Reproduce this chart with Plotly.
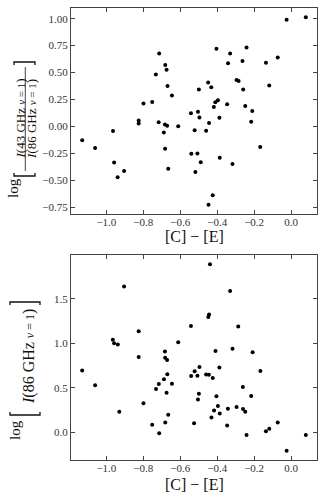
import plotly.graph_objects as go
from plotly.subplots import make_subplots

# colour index [C] - [E] and log line ratio (top panel)
ce_top = [0.080, -0.024, -0.241, -0.404, -0.330, -0.714, -0.072, -0.263, -0.136, -0.341,
          -0.681, -0.674, -0.732, -0.295, -0.284, -0.449, -0.118, -0.669, -0.432, -0.499,
          -0.259, -0.645, -0.396, -0.752, -0.410, -0.799, -0.346, -0.248, -0.418, -0.210,
          -0.504, -0.542, -0.496, -0.388, -1.131, -1.061, -0.964, -0.958, -0.939, -0.904,
          -0.825, -0.825, -0.717, -0.683, -0.671, -0.689, -0.682, -0.665, -0.611, -0.522,
          -0.518, -0.540, -0.507, -0.460, -0.444, -0.489, -0.386, -0.317, -0.216, -0.167,
          -0.424, -0.447]
ratio_43_86 = [1.012, 0.991, 0.732, 0.720, 0.676, 0.676, 0.639, 0.608, 0.592, 0.586,
               0.570, 0.527, 0.483, 0.430, 0.421, 0.409, 0.381, 0.375, 0.364, 0.342,
               0.342, 0.287, 0.244, 0.228, 0.225, 0.213, 0.206, 0.189, 0.181, 0.144,
               0.136, 0.122, 0.083, 0.082, -0.128, -0.200, -0.042, -0.335, -0.470, -0.413,
               0.056, 0.028, 0.040, 0.019, 0.007, -0.055, -0.206, -0.393, 0.001, -0.034,
               -0.422, -0.254, -0.251, -0.040, 0.032, -0.331, -0.291, -0.349, 0.044, -0.190,
               -0.637, -0.725]

# colour index and log 86 GHz intensity (bottom panel)
ce_bot = [-0.439, -0.904, -0.330, -0.444, -0.448, -0.542, -0.286, -0.825, -0.965, -0.958,
          -0.938, -0.611, -0.409, -0.683, -0.317, -0.208, -0.825, -0.682, -0.671, -0.496,
          -0.388, -1.131, -1.061, -0.930, -0.799, -0.752, -0.714, -0.731, -0.716, -0.688,
          -0.670, -0.674, -0.681, -0.665, -0.645, -0.541, -0.522, -0.507, -0.499, -0.504,
          -0.525, -0.460, -0.445, -0.424, -0.404, -0.396, -0.417, -0.386, -0.431, -0.342,
          -0.346, -0.295, -0.261, -0.260, -0.248, -0.241, -0.216, -0.166, -0.136, -0.118,
          -0.072, -0.024, 0.080]
log_i86 = [1.890, 1.641, 1.589, 1.324, 1.298, 1.197, 1.190, 1.138, 1.041, 1.003,
           0.989, 1.013, 0.916, 0.910, 0.940, 0.900, 0.847, 0.838, 0.813, 0.735,
           0.730, 0.694, 0.529, 0.232, 0.327, 0.084, -0.011, 0.488, 0.542, 0.597,
           0.653, 0.446, 0.111, 0.197, 0.546, 0.632, 0.687, 0.636, 0.433, 0.369,
           0.103, 0.651, 0.647, 0.610, 0.405, 0.295, 0.246, 0.212, 0.167, 0.265,
           0.075, 0.284, 0.510, 0.261, 0.231, -0.030, 0.409, 0.691, 0.011, 0.041,
           0.109, -0.207, -0.030]

FONT = "Liberation Serif"
INK = "#111"
W, H = 325, 500
L, R, T, B = 71, 8, 8, 40
NB = "\u00a0"


def pad(vals, frac=0.05):
    lo, hi = min(vals), max(vals)
    d = (hi - lo) * frac
    return [lo - d, hi + d]


# screen pixel -> paper coordinate
def px(x):
    return (x - L) / (W - L - R)


def py(y):
    return (H - B - y) / (H - T - B)


fig = make_subplots(rows=2, cols=1)

fig.add_trace(go.Scatter(x=ce_top, y=ratio_43_86, mode="markers",
                         marker=dict(color="black", size=4)), row=1, col=1)
fig.add_trace(go.Scatter(x=ce_bot, y=log_i86, mode="markers",
                         marker=dict(color="black", size=4)), row=2, col=1)

axis_style = dict(
    showline=True, linecolor="#444", linewidth=1, mirror="ticks",
    ticks="inside", ticklen=4, tickcolor="#444", tickwidth=1,
    showgrid=False, zeroline=False,
    tickfont=dict(family=FONT, size=11, color="#333"),
)

xr = pad(ce_top + ce_bot)
fig.update_xaxes(axis_style, range=xr, dtick=0.2, tick0=0, tickformat=".1f",
                 ticklabelstandoff=-2)
fig.update_yaxes(axis_style)
fig.update_yaxes(range=pad(ratio_43_86), dtick=0.25, tick0=0, tickformat=".2f", row=1, col=1)
fig.update_yaxes(range=pad(log_i86), dtick=0.5, tick0=0, tickformat=".1f", row=2, col=1)

fig.update_layout(
    xaxis=dict(domain=[0, 1]),
    yaxis=dict(domain=[py(214), 1]),
    xaxis2=dict(domain=[0, 1]),
    yaxis2=dict(domain=[0, py(255)]),
)


def label(x, y, text, size, angle=0):
    return dict(x=px(x), y=py(y), text=text, textangle=angle, showarrow=False,
                xref="paper", yref="paper", xanchor="center", yanchor="middle",
                font=dict(family=FONT, size=size, color=INK))


def intensity(freq, vsize):
    v = '<span style="font-size:%dpx;color:%s"><i>v</i>%s=%s1</span>' % (vsize, INK, NB, NB)
    return "<i>I</i>(" + freq + NB + "GHz" + NB + v + ")"


ann = [label(194, 236, "[C] − [E]", 16), label(194, 484, "[C] − [E]", 16)]

# top y label
ann.append(label(13, 188, "log", 15, -90))
ann.append(label(19.5, 119, intensity("43", 11), 13, -90))
ann.append(label(31, 119, intensity("86", 11), 13, -90))
# bottom y label
ann.append(label(15, 430, "log", 15, -90))
ann.append(label(29, 357, intensity("86", 12), 16, -90))


def bracket(x0, x1, y, tick):
    return dict(type="path", xref="paper", yref="paper",
                path="M {a},{c} L {a},{b} L {d},{b} L {d},{c}".format(
                    a=px(x0), d=px(x1), b=py(y), c=py(y + tick)),
                line=dict(color=INK, width=1.3))


shapes = [
    bracket(14, 35, 176, -3), bracket(14, 35, 62, 3),
    dict(type="line", xref="paper", yref="paper", x0=px(25.3), x1=px(25.3),
         y0=py(67), y1=py(171), line=dict(color=INK, width=0.8)),
    bracket(10, 40, 415, -3), bracket(10, 40, 302, 3),
]

fig.update_layout(
    width=W, height=H,
    margin=dict(l=L, r=R, t=T, b=B),
    plot_bgcolor="white", paper_bgcolor="white",
    showlegend=False,
    annotations=ann, shapes=shapes,
)

# drop the browser's default 8px body margin so the figure sits at the page corner
fig.write_html("out.html", config={"displayModeBar": False},
               post_script="document.body.style.margin='0';")
